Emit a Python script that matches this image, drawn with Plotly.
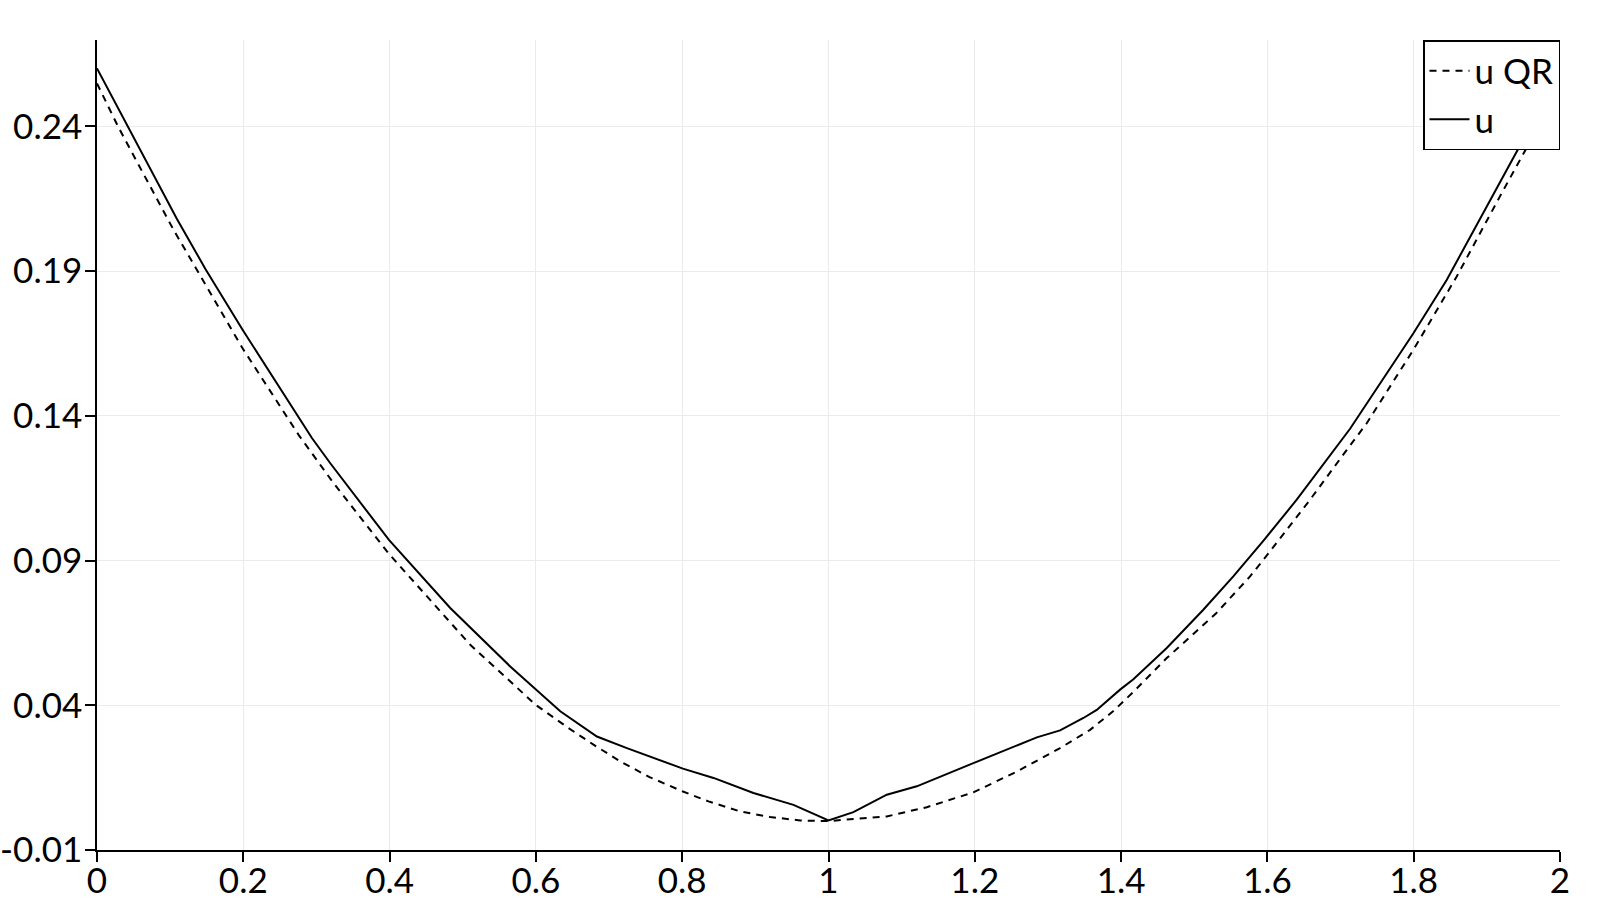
import plotly.graph_objects as go

# Solid curve "u"
x_u = [0.0, 0.0364, 0.1093, 0.148, 0.199, 0.2938, 0.3189, 0.3991, 0.4829, 0.5649,
       0.5995, 0.6333, 0.6834, 0.7244, 0.801, 0.8428, 0.8974, 0.9521, 1.0, 1.034,
       1.0797, 1.1207, 1.198, 1.2848, 1.3166, 1.3485, 1.3667, 1.3986, 1.4168, 1.4624,
       1.5124, 1.5534, 1.5944, 1.6401, 1.713, 1.7996, 1.8451, 1.8952, 1.9545, 2.0]
u_vals = [0.2600, 0.2428, 0.2080, 0.1908, 0.1697, 0.1323, 0.1236, 0.0971, 0.0736, 0.0534,
          0.0454, 0.0379, 0.0292, 0.0252, 0.0181, 0.0149, 0.0097, 0.0056, 0.0002, 0.0031,
          0.0091, 0.0120, 0.0200, 0.0289, 0.0313, 0.0356, 0.0384, 0.0454, 0.0490, 0.0598,
          0.0730, 0.0845, 0.0968, 0.1110, 0.1355, 0.1685, 0.1869, 0.2100, 0.2376, 0.2590]

# Dashed curve "u QR"
x_qr = [0.0, 0.0296, 0.1047, 0.199, 0.2756, 0.3234, 0.3991, 0.5102, 0.5995, 0.6446,
        0.6787, 0.7153, 0.7553, 0.801, 0.836, 0.8793, 0.9203, 0.9613, 1.0, 1.0797,
        1.1344, 1.198, 1.2574, 1.3166, 1.3576, 1.3894, 1.4168, 1.4624, 1.530, 1.5763,
        1.6, 1.6583, 1.7085, 1.7358, 1.7996, 1.8588, 1.9177, 1.9655, 2.0]
qr_vals = [0.2548, 0.2395, 0.2042, 0.1633, 0.1334, 0.1167, 0.0923, 0.0609, 0.0402, 0.0321,
           0.0264, 0.0206, 0.0152, 0.0102, 0.0068, 0.0033, 0.0014, 0.0002, 0.0000, 0.0016,
           0.0048, 0.0099, 0.0171, 0.0252, 0.0315, 0.0380, 0.0446, 0.0563, 0.0718, 0.0845,
           0.0920, 0.1110, 0.1282, 0.1374, 0.1628, 0.1881, 0.2157, 0.2376, 0.2535]

x_ticks = [0, 0.2, 0.4, 0.6, 0.8, 1, 1.2, 1.4, 1.6, 1.8, 2]
x_ticklabels = ["0", "0.2", "0.4", "0.6", "0.8", "1", "1.2", "1.4", "1.6", "1.8", "2"]
y_ticks = [-0.01, 0.04, 0.09, 0.14, 0.19, 0.24]
y_ticklabels = ["-0.01", "0.04", "0.09", "0.14", "0.19", "0.24"]

FONT = "Lato, 'DejaVu Sans', sans-serif"

fig = go.Figure()
fig.add_trace(go.Scatter(x=x_qr, y=qr_vals, mode="lines", name="u QR",
                         line=dict(color="black", width=2, dash="7px,6px")))
fig.add_trace(go.Scatter(x=x_u, y=u_vals, mode="lines", name="u",
                         line=dict(color="black", width=2)))

axis_common = dict(
    showline=True, linecolor="black", linewidth=1.5,
    ticks="outside", ticklen=10, tickwidth=1.5, tickcolor="black",
    showgrid=True, gridcolor="#ebebeb", gridwidth=1,
    zeroline=False, automargin=False,
    tickfont=dict(family=FONT, size=35, color="black"),
)

fig.update_xaxes(range=[0, 2], tickmode="array", tickvals=x_ticks,
                 ticktext=x_ticklabels, ticklabelstandoff=-11, **axis_common)
fig.update_yaxes(range=[-0.01, 0.2698], tickmode="array", tickvals=y_ticks,
                 ticktext=y_ticklabels, ticklabelstandoff=-4, **axis_common)

fig.update_layout(
    width=1600, height=900,
    margin=dict(l=97, r=40, t=40, b=50),
    paper_bgcolor="white", plot_bgcolor="white",
    showlegend=True,
    legend=dict(x=1, y=1, xanchor="right", yanchor="top",
                bgcolor="white", bordercolor="black", borderwidth=1.5,
                font=dict(family=FONT, size=35, color="black"),
                itemwidth=40, tracegroupgap=0),
)

fig.write_html(
    "out.html",
    config={"displayModeBar": False},
    post_script="document.body.style.margin='0';document.body.style.overflow='hidden';",
)
